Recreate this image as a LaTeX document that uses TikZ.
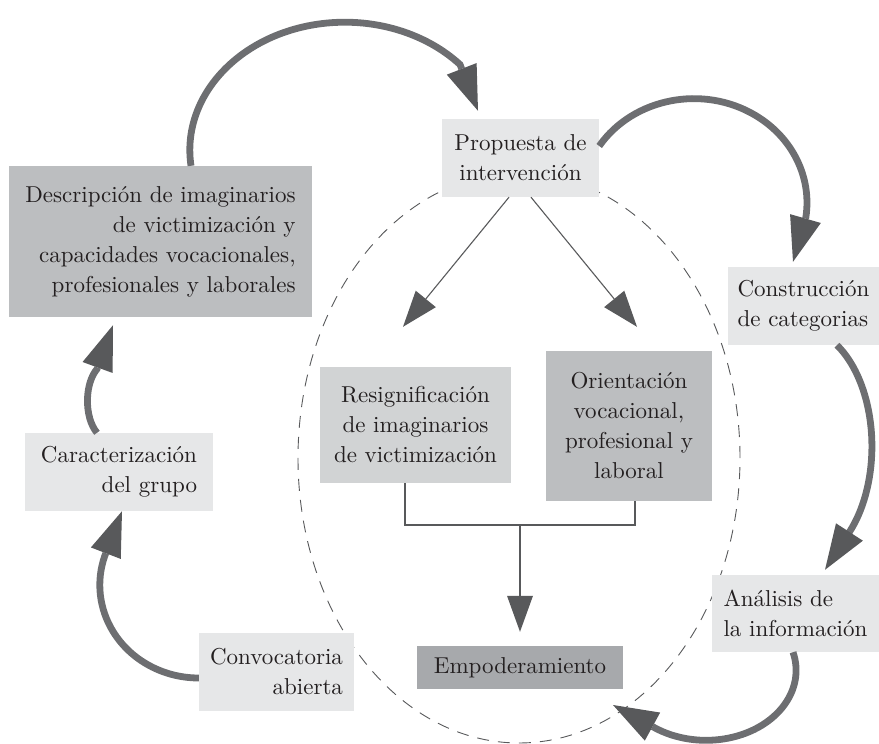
\documentclass[tikz,border=0pt]{standalone}
\usepackage{xcolor}
\usepackage{fontspec}
\setmainfont{lmroman10-regular.otf}
\usepackage{tikz}
\usetikzlibrary{arrows.meta}
\definecolor{boxlight}{HTML}{E6E7E8}
\definecolor{boxpale}{HTML}{D1D3D4}
\definecolor{boxmid}{HTML}{BCBEC0}
\definecolor{boxdark}{HTML}{A7A9AC}
\definecolor{loopgray}{HTML}{6D6E71}
\definecolor{headgray}{HTML}{58595B}
\definecolor{textgray}{HTML}{231F20}

\begin{document}
\begin{tikzpicture}[x=1pt, y=1pt,
    box/.style={rectangle, inner xsep=4pt, inner ysep=0pt, text=textgray,
        font=\fontsize{23}{30}\selectfont},
    cyclearrow/.style={draw=loopgray, line width=6.8pt,
        -{Triangle[length=45pt, width=32pt, line width=0pt, color=headgray]}},
    branch/.style={draw=headgray, line width=1.1pt},
    brancharrow/.style={branch,
        -{Triangle[length=36pt, width=26pt, line width=0pt, color=headgray]}},
    ring/.style={draw=headgray, line width=0.9pt, dash pattern=on 12pt off 9pt},
    ]
    \useasboundingbox (0,0) rectangle (879,-744);

    \draw[ring] (519,-458) ellipse [x radius=221, y radius=285];

    \path (520.5,-158) node[box, fill=boxlight, minimum width=157pt, minimum height=78pt, align=center] (prop) {Propuesta de\\intervención}
    (160.5,-241.5) node[box, fill=boxmid, minimum width=303pt, minimum height=151pt, align=right] (desc) {Descripción de imaginarios\\de victimización y\\capacidades vocacionales,\\profesionales y laborales}
    (803.5,-306) node[box, fill=boxlight, minimum width=151pt, minimum height=78pt, align=left] (cons) {Construcción\\de categorias}
    (415.5,-425) node[box, fill=boxpale, minimum width=191pt, minimum height=116pt, align=center] (resig) {Resignificación\\de imaginarios\\de victimización}
    (629,-426) node[box, fill=boxmid, minimum width=166pt, minimum height=150pt, align=center] (orien) {Orientación\\vocacional,\\profesional y\\laboral}
    (119,-472) node[box, fill=boxlight, minimum width=188pt, minimum height=78pt, align=right] (carac) {Caracterización\\del grupo}
    (276.5,-672) node[box, fill=boxlight, minimum width=155pt, minimum height=78pt, align=right] (convo) {Convocatoria\\abierta}
    (520,-667.5) node[box, fill=boxdark, minimum width=206pt, minimum height=43pt] (empo) {Empoderamiento}
    (795.5,-613.5) node[box, fill=boxlight, minimum width=167pt, minimum height=77pt, align=left] (anal) {Análisis de\\la información};

    \coordinate (merge) at (520,-525);
    \coordinate (loopend) at (613,-705);

    \draw[brancharrow] ([xshift=-11.5pt]prop.south) -- ([xshift=-12.5pt,yshift=40pt]resig.north);
    \draw[brancharrow] ([xshift=10.5pt]prop.south) -- ([xshift=8pt,yshift=24pt]orien.north);
    \draw[branch] ([xshift=-10.5pt]resig.south) |- (merge) -| ([xshift=6pt]orien.south);
    \draw[brancharrow] (merge) -- ([yshift=14pt]empo.north);

    \draw[cyclearrow] ([xshift=30.5pt]desc.north) arc[start angle=187, end angle=42, x radius=155, y radius=128] -- ([xshift=-42.5pt,yshift=8pt]prop.north);
    \draw[cyclearrow] ([yshift=12pt]prop.east) arc[start angle=147, end angle=-8, x radius=113, y radius=104] -- ([xshift=-10.5pt,yshift=5pt]cons.north);
    \draw[cyclearrow] ([xshift=33.5pt]cons.south) arc[start angle=59, end angle=-47, x radius=72, y radius=118] -- ([xshift=29.5pt,yshift=5pt]anal.north);
    \draw[cyclearrow] ([xshift=-2.5pt]anal.south) arc[start angle=15, end angle=-125, x radius=90, y radius=70] -- (loopend);
    \draw[cyclearrow] ([yshift=-6pt]convo.west) arc[start angle=270, end angle=162, x radius=99, y radius=93] -- ([xshift=3pt]carac.south);
    \draw[cyclearrow] ([xshift=-22pt]carac.north) arc[start angle=237, end angle=123, x radius=21, y radius=38] -- ([xshift=-47.5pt,yshift=-8pt]desc.south);

\end{tikzpicture}
\end{document}
